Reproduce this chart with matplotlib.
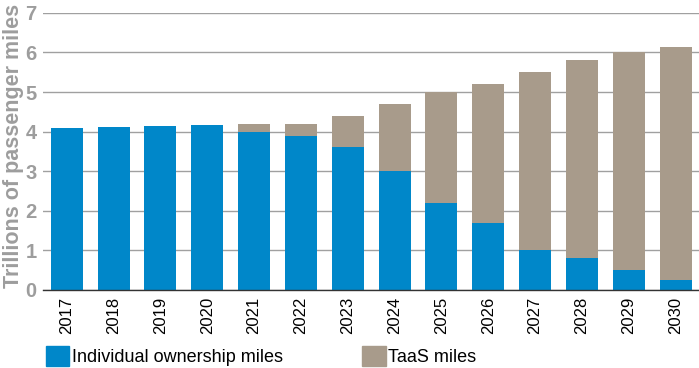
import matplotlib.pyplot as plt
from matplotlib.patches import Patch

years = ["2017", "2018", "2019", "2020", "2021", "2022", "2023",
         "2024", "2025", "2026", "2027", "2028", "2029", "2030"]
individual = [4.1, 4.12, 4.15, 4.18, 4.0, 3.9, 3.6, 3.0, 2.2, 1.7, 1.0, 0.8, 0.5, 0.25]
totals = [4.1, 4.12, 4.15, 4.18, 4.2, 4.2, 4.4, 4.7, 5.0, 5.2, 5.5, 5.8, 6.0, 6.15]
taas = [t - i for t, i in zip(totals, individual)]

blue = "#0087c9"
taupe = "#a89b8b"
grey = "#9d9d9d"

plt.rcParams["font.family"] = ["Liberation Sans", "DejaVu Sans"]

fig = plt.figure(figsize=(6.99, 3.68), dpi=100)
ax = fig.add_axes([0.062, 0.212, 0.938, 0.753])

x = range(len(years))
ax.bar(x, individual, width=0.68, color=blue, zorder=3)
ax.bar(x, taas, width=0.68, bottom=individual, color=taupe, zorder=3)

ax.set_xlim(-0.5, len(years) - 0.5)
ax.set_ylim(0, 7)
ax.set_yticks(range(8))
ax.set_xticks(list(x))
ax.set_xticklabels(years, rotation=90, fontsize=12)

# y ticks: large bold grey digits, no tick marks
for lbl in ax.get_yticklabels():
    lbl.set_fontsize(14.5)
    lbl.set_fontweight("bold")
    lbl.set_color(grey)
ax.tick_params(axis="y", length=0, pad=5)
ax.tick_params(axis="x", length=0, pad=5)

ax.grid(axis="y", color="#a0a0a0", linewidth=1, zorder=0)
for s in ["top", "right", "left"]:
    ax.spines[s].set_visible(False)
ax.spines["bottom"].set_color("#333333")
ax.spines["bottom"].set_linewidth(1)
ax.spines["bottom"].set_zorder(4)

# y axis title sits at the far left edge of the figure
fig.text(14 / 699, 1 - 146 / 368, "Trillions of passenger miles", rotation=90,
         ha="center", va="center", fontsize=15.5, fontweight="bold", color=grey)

handles = [Patch(color=blue, label="Individual ownership miles"),
           Patch(color=taupe, label="TaaS miles")]
fig.legend(handles=handles, loc="lower left", bbox_to_anchor=(0.055, -0.015),
           ncol=2, frameon=False, fontsize=13, handlelength=1.3, handleheight=1.3,
           handletextpad=0.15, columnspacing=4.4, borderaxespad=0)

fig.savefig("out.png", dpi=100)
